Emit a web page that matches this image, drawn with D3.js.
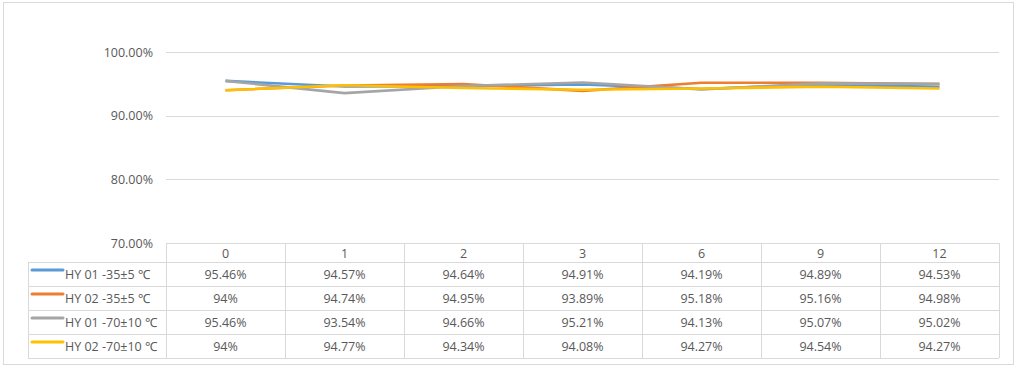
<!DOCTYPE html>
<html><head><meta charset="utf-8">
<script src="https://cdn.jsdelivr.net/npm/d3@7"></script>
<style>body{margin:0;background:#fff;} text{font-family:"Open Sans","Liberation Sans",sans-serif;}</style>
</head><body>
<svg id="c" width="1017" height="367"></svg>
<script>
const categories = ["0","1","2","3","6","9","12"];
const seriesNames = ["HY 01 -35±5 ℃","HY 02 -35±5 ℃","HY 01 -70±10 ℃","HY 02 -70±10 ℃"];
const s1 = [95.46,94.57,94.64,94.91,94.19,94.89,94.53];
const s2 = [94,94.74,94.95,93.89,95.18,95.16,94.98];
const s3 = [95.46,93.54,94.66,95.21,94.13,95.07,95.02];
const s4 = [94,94.77,94.34,94.08,94.27,94.54,94.27];
const labels1 = ["95.46%","94.57%","94.64%","94.91%","94.19%","94.89%","94.53%"];
const labels2 = ["94%","94.74%","94.95%","93.89%","95.18%","95.16%","94.98%"];
const labels3 = ["95.46%","93.54%","94.66%","95.21%","94.13%","95.07%","95.02%"];
const labels4 = ["94%","94.77%","94.34%","94.08%","94.27%","94.54%","94.27%"];
const yTicks = [70,80,90,100];
const colors = ["#5B9BD5","#ED7D31","#A5A5A5","#FFC000"];

(function(){
const series = [s1,s2,s3,s4];
const tableLabels = [labels1,labels2,labels3,labels4];
const svg = d3.select("#c");
const pLeft = 166, pRight = 999, pTop = 52, pBottom = 243;
const fs = "12.5px";

svg.append("rect").attr("x",3.5).attr("y",2.5).attr("width",1010).attr("height",362)
  .attr("fill","#fff").attr("stroke","#d9d9d9");

const x = d3.scaleBand().domain(categories).range([pLeft,pRight]);
const y = d3.scaleLinear().domain([70,100]).range([pBottom,pTop]);

svg.append("g").selectAll("line").data(yTicks.filter(t=>t>70)).join("line")
  .attr("x1",pLeft).attr("x2",pRight).attr("y1",d=>Math.round(y(d))+0.5).attr("y2",d=>Math.round(y(d))+0.5)
  .attr("stroke","#d9d9d9").attr("stroke-width",1);

const yAxis = d3.axisLeft(y).tickValues(yTicks).tickFormat(d=>d.toFixed(2)+"%").tickSize(0).tickPadding(13);
const ya = svg.append("g").attr("transform",`translate(${pLeft},0)`).call(yAxis);
ya.select(".domain").remove();
ya.selectAll("text").attr("fill","#595959").style("font-size",fs).style("font-family",'"Open Sans",sans-serif');

const line = d3.line().x((d,i)=>x(categories[i])+x.bandwidth()/2).y(d=>y(d));
series.forEach((s,k)=>{
  svg.append("path").datum(s).attr("d",line).attr("fill","none")
    .attr("stroke",colors[k]).attr("stroke-width",2.6).attr("stroke-linejoin","round");
});

const rowTops = [243,262,286,310,334,358];
const legendLeft = 28;
const tg = svg.append("g");
const gridColor = "#d9d9d9";
rowTops.forEach((ry,i)=>{
  tg.append("line").attr("x1", i===0?pLeft:legendLeft).attr("x2",pRight)
    .attr("y1",ry+0.5).attr("y2",ry+0.5).attr("stroke",gridColor);
});
tg.append("line").attr("x1",legendLeft+0.5).attr("x2",legendLeft+0.5).attr("y1",rowTops[1]).attr("y2",rowTops[5]).attr("stroke",gridColor);
const colEdges = categories.map(c=>x(c)).concat([pRight]);
colEdges.forEach(cx=>{
  tg.append("line").attr("x1",Math.round(cx)+0.5).attr("x2",Math.round(cx)+0.5).attr("y1",rowTops[0]).attr("y2",rowTops[5]).attr("stroke",gridColor);
});
tg.selectAll("text.h").data(categories).join("text").attr("class","h")
  .attr("x",d=>x(d)+x.bandwidth()/2).attr("y",(rowTops[0]+rowTops[1])/2+5)
  .attr("text-anchor","middle").attr("fill","#595959").style("font-size",fs).text(d=>d);
tableLabels.forEach((labs,k)=>{
  const cy = (rowTops[k+1]+rowTops[k+2])/2;
  tg.append("line").attr("x1",32).attr("x2",63).attr("y1",rowTops[k+1]+8).attr("y2",rowTops[k+1]+8)
    .attr("stroke",colors[k]).attr("stroke-width",3).attr("stroke-linecap","round");
  tg.append("text").attr("x",65).attr("y",cy+5).attr("fill","#595959").style("font-size",fs).text(seriesNames[k]);
  tg.selectAll(null).data(labs).join("text")
    .attr("x",(d,i)=>x(categories[i])+x.bandwidth()/2).attr("y",cy+5)
    .attr("text-anchor","middle").attr("fill","#595959").style("font-size",fs).text(d=>d);
});
})();
</script>
</body></html>
